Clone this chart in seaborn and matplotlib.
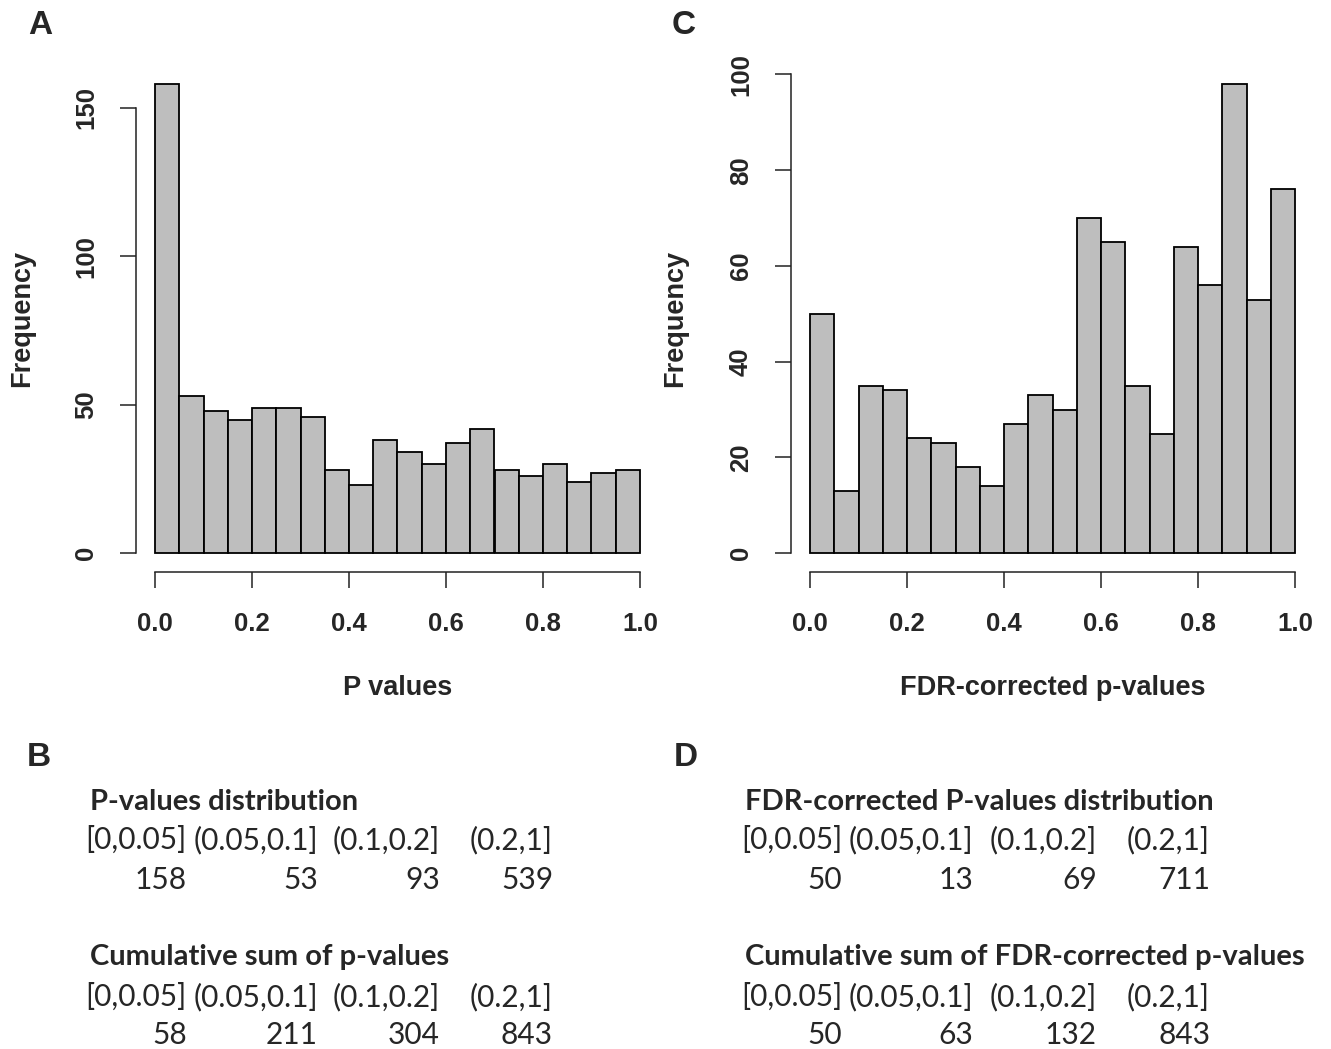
"""
P-value histograms (raw and FDR-corrected) with binned summary tables.
"""
import numpy as np
import pandas as pd
import matplotlib
matplotlib.use("Agg")
import matplotlib.pyplot as plt
import seaborn as sns

# histogram counts, 20 bins of width 0.05 on [0, 1]
p_counts = [158, 53, 48, 45, 49, 49, 46, 28, 23, 38,
            34, 30, 37, 42, 28, 26, 30, 24, 27, 28]
fdr_counts = [50, 13, 35, 34, 24, 23, 18, 14, 27, 33,
              30, 70, 65, 35, 25, 64, 56, 98, 53, 76]
n_bins = 20

x_ticks = [0.0, 0.2, 0.4, 0.6, 0.8, 1.0]
p_yticks = [0, 50, 100, 150]
fdr_yticks = [0, 20, 40, 60, 80, 100]

# summary tables
intervals = ["[0,0.05]", "(0.05,0.1]", "(0.1,0.2]", "(0.2,1]"]
p_dist = [158, 53, 93, 539]
p_cum = [58, 211, 304, 843]
fdr_dist = [50, 13, 69, 711]
fdr_cum = [50, 63, 132, 843]

W, H = 1331, 1049

sns.set_theme(style="white")
plt.rcParams["font.family"] = ["Liberation Sans", "DejaVu Sans"]
plt.rcParams["axes.linewidth"] = 1.1

fig = plt.figure(figsize=(W / 100, H / 100), dpi=100)
fig.patch.set_facecolor("white")


def px_axes(left, top, right, bottom):
    return fig.add_axes([left / W, 1 - bottom / H, (right - left) / W, (bottom - top) / H])


def draw_hist(ax, counts, yticks, xlabel, ylabel_x):
    mids = (np.arange(n_bins) + 0.5) / n_bins
    df = pd.DataFrame({"value": mids, "count": counts})
    sns.histplot(data=df, x="value", weights="count", bins=n_bins,
                 binrange=(0, 1), color="#BEBEBE", edgecolor="black",
                 linewidth=1.3, alpha=1, ax=ax)
    top = max(counts)
    ax.set_xlim(-0.04, 1.04)
    ax.set_ylim(-0.04 * top, 1.04 * top)
    for side in ["top", "right"]:
        ax.spines[side].set_visible(False)
    for side in ["left", "bottom"]:
        ax.spines[side].set_color("#222222")
    ax.spines["left"].set_bounds(0, yticks[-1])
    ax.spines["bottom"].set_bounds(0, 1)

    ax.set_xticks(x_ticks)
    ax.set_xticklabels([f"{t:.1f}" for t in x_ticks], fontweight="bold")
    ax.set_yticks(yticks)
    ax.set_yticklabels([str(t) for t in yticks], rotation=90, va="center",
                       fontweight="bold")
    ax.tick_params(axis="both", direction="out", length=11.5, width=1.1,
                   color="#222222", labelsize=18.5, left=True, bottom=True)
    ax.tick_params(axis="x", pad=17)
    ax.tick_params(axis="y", pad=15.5)

    ax.set_xlabel(xlabel, fontsize=19.5, fontweight="bold", va="center")
    ax.xaxis.set_label_coords(0.5, -0.229)
    ax.set_ylabel("Frequency", fontsize=19.5, fontweight="bold", va="center")
    ax.yaxis.set_label_coords(ylabel_x, 0.5)
    ax.grid(False)


ax_a = px_axes(135.6, 65.3, 659.4, 572)
draw_hist(ax_a, p_counts, p_yticks, "P values", -0.217)

ax_c = px_axes(790.6, 65.3, 1314.4, 572)
draw_hist(ax_c, fdr_counts, fdr_yticks, "FDR-corrected p-values", -0.221)

# panel letters
for letter, (x, y) in {"A": (40, 25), "C": (684, 25),
                       "B": (39, 757), "D": (686, 757)}.items():
    fig.text(x / W, 1 - y / H, letter, fontsize=24, fontweight="bold",
             ha="center", va="center")


def draw_table(x0, col_right, title, values, y_title, y_head, y_vals):
    fig.text(x0 / W, 1 - y_title / H, title, fontsize=21, fontweight="bold",
             family=["Lato", "DejaVu Sans"], ha="left", va="center")
    for lab, val, xr in zip(intervals, values, col_right):
        fig.text(xr / W, 1 - y_head / H, lab, fontsize=21.5,
                 family=["Lato", "DejaVu Sans"], ha="right", va="center")
        fig.text(xr / W, 1 - y_vals / H, str(val), fontsize=21.5,
                 family=["Lato", "DejaVu Sans"], ha="right", va="center")


b_cols = [187, 318, 440, 553]
d_cols = [842, 973, 1097, 1210]

draw_table(90, b_cols, "P-values distribution", p_dist, 802, 840, 880)
draw_table(90, b_cols, "Cumulative sum of p-values", p_cum, 957, 997, 1035)
draw_table(745, d_cols, "FDR-corrected P-values distribution", fdr_dist, 802, 840, 880)
draw_table(745, d_cols, "Cumulative sum of FDR-corrected p-values", fdr_cum, 957, 997, 1035)

fig.savefig("out.png", dpi=100, facecolor="white")
plt.close(fig)
